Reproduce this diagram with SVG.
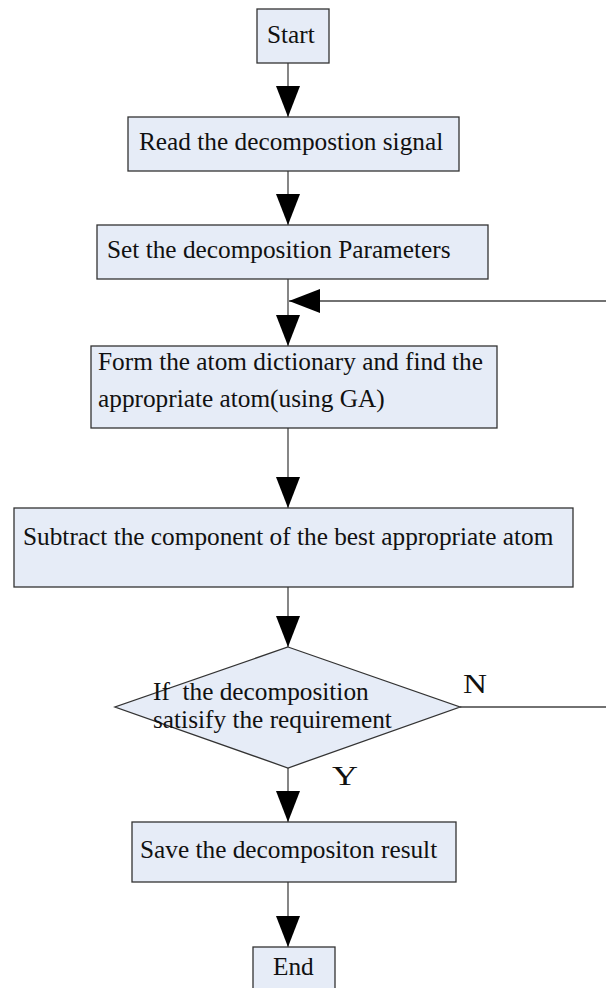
<svg xmlns="http://www.w3.org/2000/svg" width="606" height="988" viewBox="0 0 606 988">
<style>
.box{fill:#e6ecf7;stroke:#333;stroke-width:1.3}
.t{font-family:'Liberation Serif','Times New Roman',Times,serif;font-size:25.3px;fill:#111}
.lbl{font-size:28px}
.c{fill:none;stroke:#444;stroke-width:1.3}
</style>
<defs>
<marker id="ah" viewBox="0 0 31 24" refX="31" refY="12" markerWidth="31" markerHeight="24" markerUnits="userSpaceOnUse" orient="auto">
<path d="M0,0 L31,12 L0,24 z" fill="#000"/>
</marker>
</defs>
<rect width="606" height="988" fill="#fff"/>
<g id="connectors">
<path class="c" d="M288,63 V117" marker-end="url(#ah)"/>
<path class="c" d="M288,171 V225" marker-end="url(#ah)"/>
<path class="c" d="M288,279 V346" marker-end="url(#ah)"/>
<path class="c" d="M460,707 H608 V301 H289" marker-end="url(#ah)"/>
<path class="c" d="M288,428 V508" marker-end="url(#ah)"/>
<path class="c" d="M288,587 V647" marker-end="url(#ah)"/>
<path class="c" d="M288,768 V822" marker-end="url(#ah)"/>
<path class="c" d="M288,882 V947" marker-end="url(#ah)"/>
</g>
<g id="start">
<rect class="box" x="257" y="9" width="72" height="54"/>
<text class="t" x="267" y="43" font-family="Liberation Serif">Start</text>
</g>
<g id="read">
<rect class="box" x="128" y="117" width="331" height="54"/>
<text class="t" x="139" y="150" font-family="Liberation Serif">Read the decompostion signal</text>
</g>
<g id="set">
<rect class="box" x="97" y="225" width="391" height="54"/>
<text class="t" x="107" y="258" font-family="Liberation Serif">Set the decomposition Parameters</text>
</g>
<g id="form">
<rect class="box" x="91" y="346" width="406" height="82"/>
<text class="t" x="98" y="370" font-family="Liberation Serif">Form the atom dictionary and find the</text>
<text class="t" x="98" y="407" font-family="Liberation Serif">appropriate atom(using GA)</text>
</g>
<g id="subtract">
<rect class="box" x="14" y="508" width="559" height="79"/>
<text class="t" x="23" y="545" font-family="Liberation Serif">Subtract the component of the best appropriate atom</text>
</g>
<g id="decision">
<polygon class="box" points="288,647 460,707 288,768 115,707"/>
<text class="t" x="153" y="700" font-family="Liberation Serif" xml:space="preserve">If  the decomposition</text>
<text class="t" x="153" y="728" font-family="Liberation Serif">satisify the requirement</text>
<text class="t lbl" x="463" y="693" font-family="Liberation Serif" textLength="24" lengthAdjust="spacingAndGlyphs">N</text>
<text class="t lbl" x="332" y="785" font-family="Liberation Serif" textLength="26" lengthAdjust="spacingAndGlyphs">Y</text>
</g>
<g id="save">
<rect class="box" x="132" y="822" width="324" height="60"/>
<text class="t" x="140" y="858" font-family="Liberation Serif">Save the decompositon result</text>
</g>
<g id="end">
<rect class="box" x="253" y="947" width="82" height="50"/>
<text class="t" x="273" y="975" font-family="Liberation Serif">End</text>
</g>
</svg>
